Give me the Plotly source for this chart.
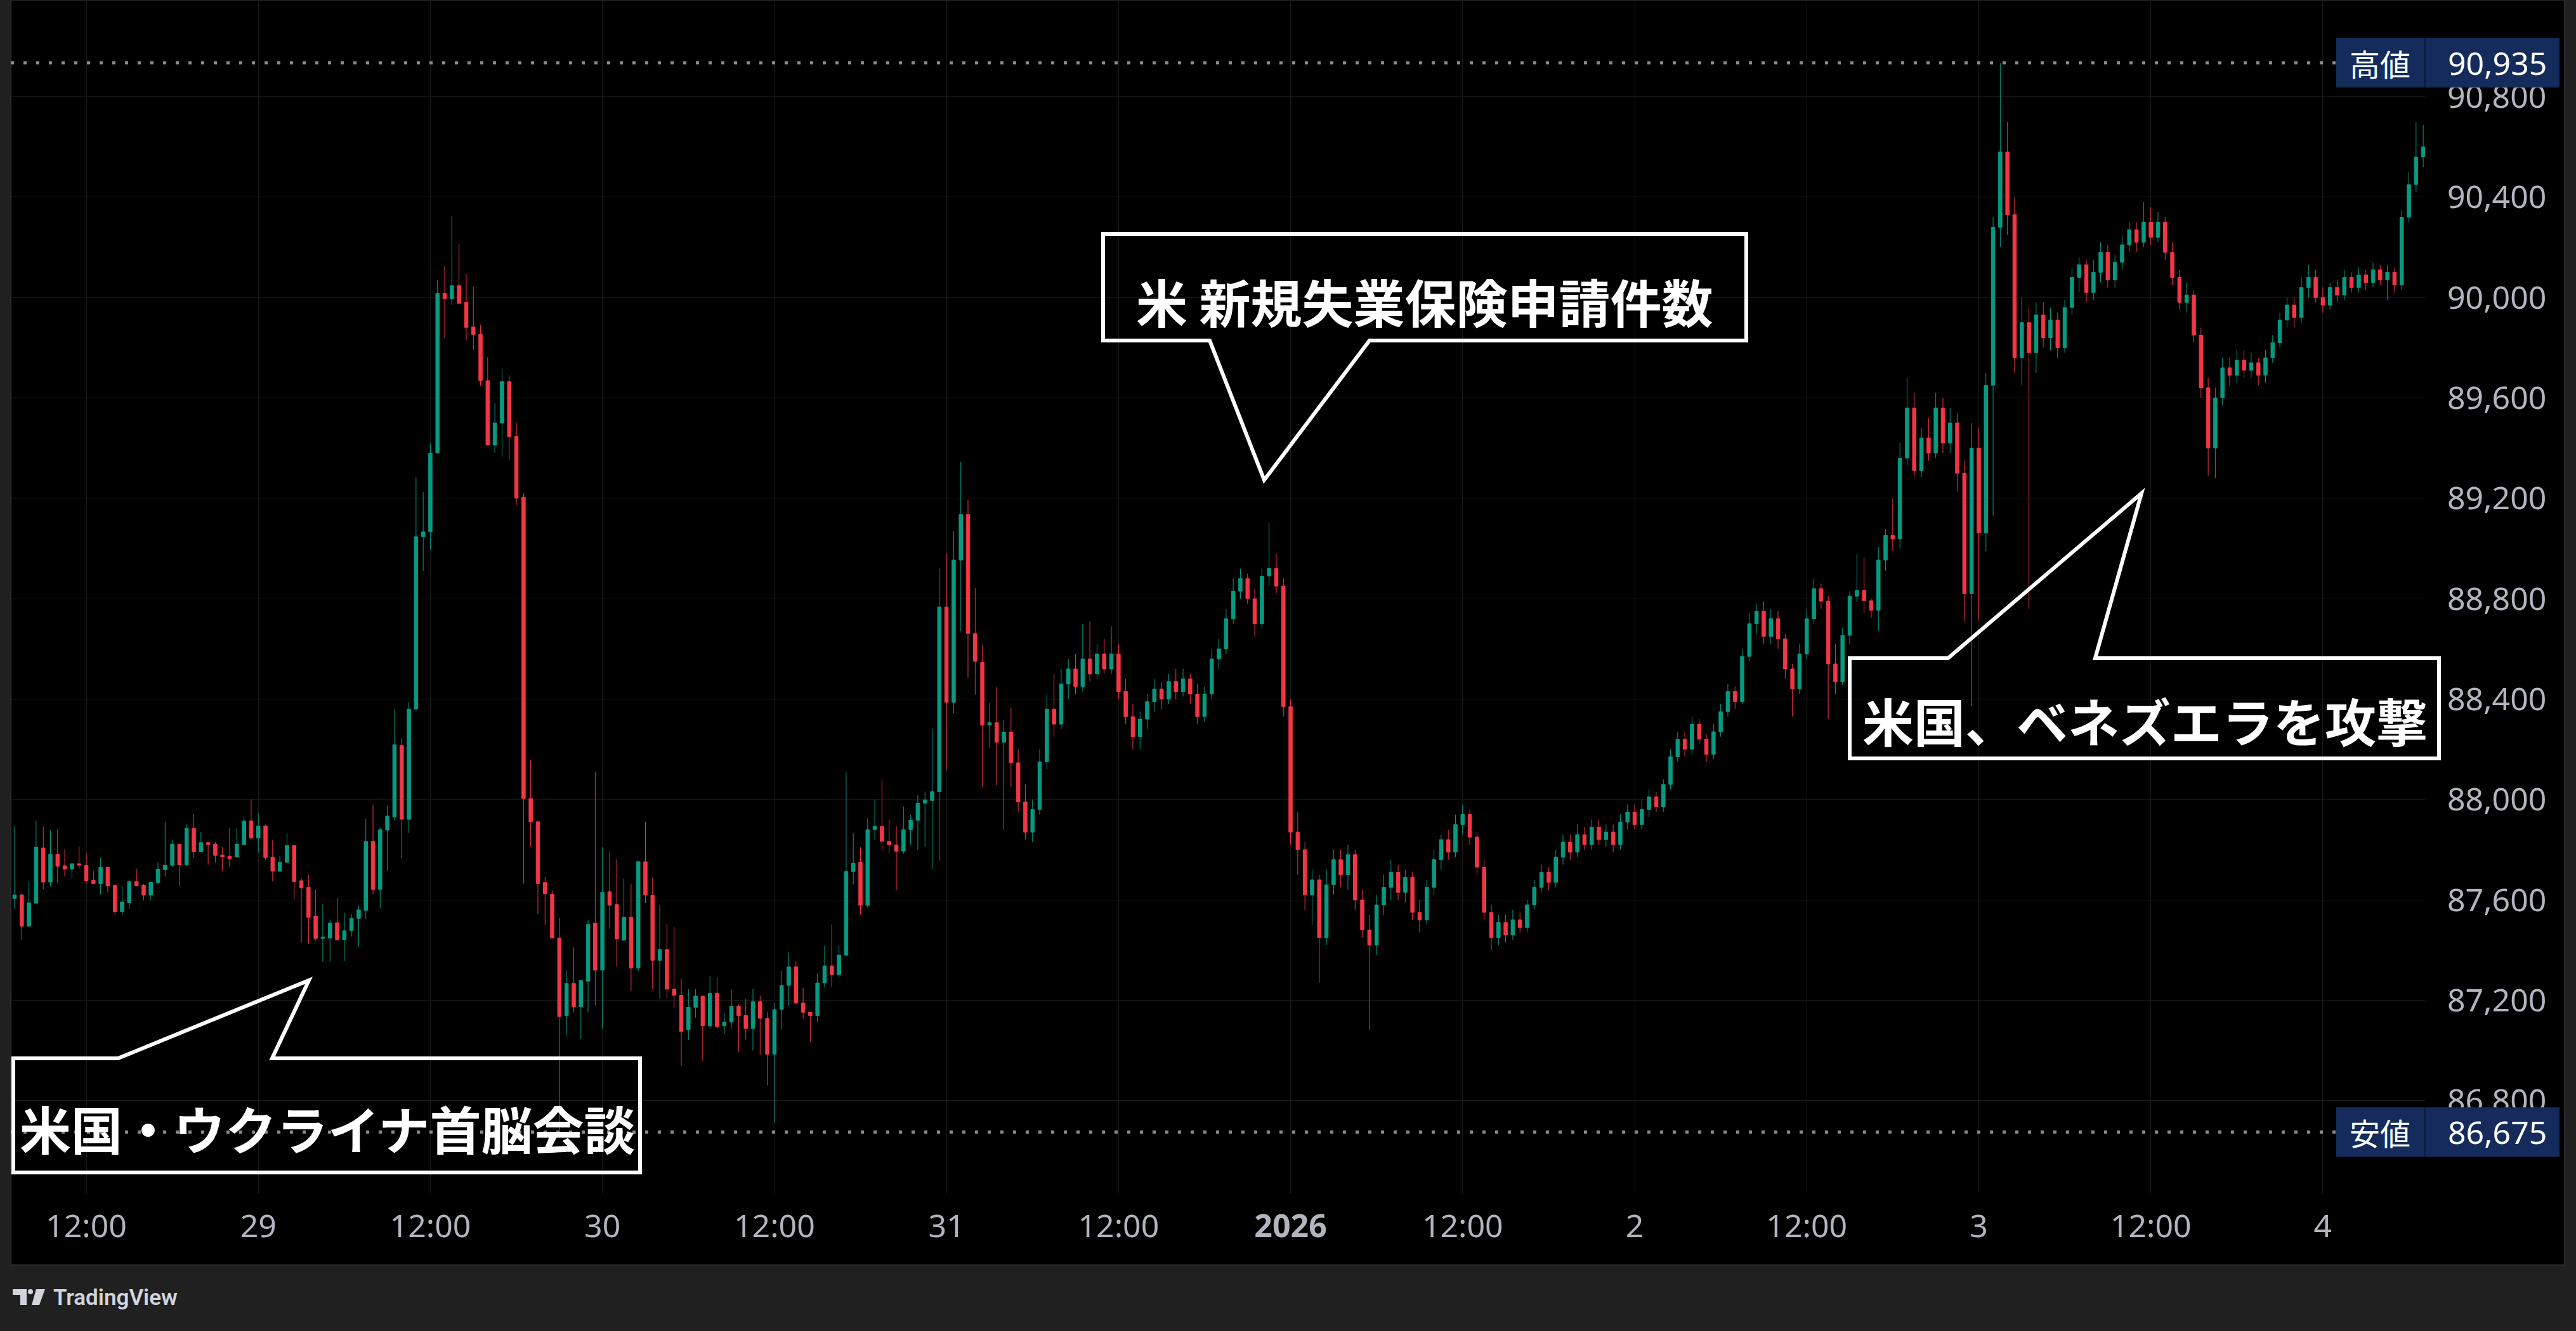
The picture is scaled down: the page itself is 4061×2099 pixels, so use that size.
import plotly.graph_objects as go
import pandas as pd

# ---------------- data (30-minute candles) ----------------
start_time = "2025-12-28 07:00"

opens = [87605, 87620, 87495, 87587, 87807, 87671, 87781, 87736, 87722, 87744,
         87738, 87678, 87665, 87730, 87658, 87553, 87589, 87673, 87658, 87619,
         87668, 87720, 87737, 87822, 87740, 87885, 87791, 87828, 87822, 87779,
         87774, 87771, 87820, 87914, 87846, 87894, 87770, 87714, 87749, 87817,
         87676, 87650, 87535, 87446, 87448, 87509, 87441, 87477, 87526, 87558,
         87833, 87642, 87878, 87930, 88216, 87921, 88360, 89047, 89066, 89380,
         90017, 89994, 90048, 89981, 89883, 89853, 89669, 89412, 89500, 89665,
         89446, 89204, 88004, 87911, 87669, 87622, 87448, 87139, 87267, 87174,
         87276, 87507, 87320, 87633, 87581, 87439, 87531, 87328, 87752, 87619,
         87359, 87402, 87244, 87220, 87083, 87172, 87217, 87098, 87228, 87098,
         87113, 87176, 87139, 87087, 87194, 87128, 86985, 87163, 87259, 87333,
         87189, 87152, 87139, 87269, 87337, 87302, 87380, 87713, 87750, 87578,
         87880, 87893, 87833, 87819, 87794, 87880, 87917, 87985, 87996, 88031,
         88767, 88387, 88954, 89135, 88661, 88546, 88296, 88306, 88228, 88269,
         88146, 87990, 87870, 87960, 88150, 88360, 88300, 88460, 88520, 88450,
         88560, 88500, 88580, 88520, 88580, 88430, 88330, 88250, 88320, 88390,
         88440, 88400, 88470, 88430, 88480, 88420, 88330, 88420, 88560, 88600,
         88720, 88830, 88880, 88800, 88700, 88890, 88920, 88850, 88370, 87870,
         87800, 87620, 87680, 87450, 87660, 87760, 87700, 87780, 87600, 87480,
         87420, 87580, 87650, 87710, 87630, 87690, 87550, 87520, 87650, 87760,
         87840, 87790, 87900, 87940, 87850, 87730, 87550, 87450, 87510, 87460,
         87520, 87490, 87580, 87650, 87710, 87670, 87770, 87830, 87790, 87860,
         87820, 87890, 87840, 87870, 87820, 87910, 87950, 87900, 87960, 88010,
         87970, 88060, 88170, 88240, 88200, 88300, 88240, 88180, 88270, 88350,
         88430, 88390, 88570, 88700, 88750, 88650, 88720, 88640, 88520, 88440,
         88580, 88720, 88840, 88790, 88540, 88469, 88654, 88810, 88833, 88792,
         88754, 88954, 89052, 89038, 89360, 89560, 89310, 89440, 89380, 89560,
         89420, 89500, 89300, 88820, 89400, 89062, 89650, 90280, 90580, 90330,
         89760, 89900, 89780, 89930, 89840, 89910, 89800, 89960, 90080, 90130,
         90020, 90100, 90180, 90070, 90140, 90210, 90270, 90220, 90300, 90240,
         90300, 90180, 90080, 89980, 90010, 89850, 89640, 89400, 89600, 89720,
         89690, 89750, 89710, 89740, 89690, 89760, 89820, 89910, 89970, 89920,
         90040, 90080, 90000, 89970, 90040, 90010, 90080, 90040, 90090, 90060,
         90110, 90070, 90100, 90050, 90320, 90450, 90560]
highs = [87894, 87626, 87673, 87914, 87891, 87877, 87883, 87802, 87745, 87814,
         87784, 87716, 87768, 87733, 87658, 87655, 87681, 87724, 87664, 87670,
         87750, 87911, 87840, 87822, 87900, 87942, 87871, 87831, 87831, 87811,
         87886, 87886, 87932, 88000, 87945, 87900, 87840, 87775, 87867, 87817,
         87687, 87699, 87641, 87583, 87521, 87609, 87549, 87542, 87578, 87923,
         87978, 87888, 87976, 88360, 88247, 88388, 89284, 89225, 89418, 90069,
         90124, 90325, 90214, 90094, 90044, 89891, 89763, 89579, 89717, 89691,
         89501, 89222, 88157, 87917, 87691, 87637, 87528, 87318, 87411, 87282,
         87519, 88111, 87809, 87791, 87761, 87685, 87663, 87757, 87911, 87689,
         87580, 87504, 87491, 87287, 87244, 87244, 87217, 87296, 87291, 87150,
         87243, 87183, 87206, 87244, 87219, 87152, 87189, 87317, 87389, 87356,
         87250, 87152, 87306, 87417, 87502, 87417, 88109, 87865, 87809, 87924,
         88000, 88078, 87920, 87894, 87972, 87939, 88017, 88031, 88281, 88920,
         88981, 89069, 89346, 89194, 88843, 88615, 88385, 88448, 88315, 88365,
         88200, 88060, 88000, 88200, 88420, 88500, 88520, 88560, 88580, 88700,
         88710, 88620, 88640, 88690, 88620, 88480, 88380, 88350, 88420, 88480,
         88470, 88500, 88520, 88520, 88500, 88460, 88450, 88600, 88640, 88760,
         88880, 88920, 88900, 88840, 88920, 89100, 88980, 88880, 88400, 87950,
         87830, 87720, 87700, 87720, 87800, 87800, 87820, 87800, 87640, 87540,
         87620, 87700, 87760, 87740, 87720, 87710, 87600, 87680, 87800, 87860,
         87880, 87940, 87980, 87960, 87870, 87760, 87580, 87540, 87540, 87560,
         87550, 87600, 87680, 87740, 87730, 87800, 87860, 87860, 87900, 87890,
         87920, 87920, 87900, 87900, 87940, 87980, 87980, 88000, 88040, 88030,
         88080, 88200, 88270, 88270, 88330, 88320, 88260, 88300, 88380, 88460,
         88450, 88600, 88740, 88780, 88790, 88760, 88750, 88660, 88540, 88620,
         88760, 88880, 88860, 88810, 88620, 88684, 88829, 88979, 88966, 88800,
         89006, 89076, 89198, 89420, 89680, 89620, 89480, 89520, 89620, 89600,
         89560, 89540, 89350, 89500, 89480, 89700, 90320, 90935, 90700, 90400,
         90000, 89960, 89980, 89980, 89960, 89940, 89990, 90120, 90160, 90150,
         90150, 90220, 90210, 90170, 90250, 90300, 90300, 90380, 90360, 90340,
         90320, 90220, 90110, 90060, 90030, 89880, 89680, 89640, 89760, 89760,
         89790, 89790, 89780, 89760, 89790, 89850, 89940, 90000, 90000, 90080,
         90130, 90110, 90040, 90060, 90070, 90110, 90100, 90120, 90110, 90140,
         90130, 90130, 90120, 90350, 90500, 90698, 90688]
lows = [87565, 87441, 87493, 87587, 87642, 87654, 87667, 87693, 87685, 87723,
        87668, 87665, 87622, 87630, 87540, 87540, 87564, 87656, 87598, 87598,
        87668, 87693, 87730, 87654, 87733, 87768, 87791, 87740, 87748, 87714,
        87731, 87768, 87820, 87843, 87788, 87760, 87673, 87714, 87749, 87601,
        87429, 87426, 87437, 87352, 87352, 87435, 87355, 87454, 87412, 87524,
        87622, 87566, 87714, 87917, 87766, 87868, 88360, 88911, 88993, 89380,
        89839, 89971, 89977, 89830, 89791, 89648, 89412, 89382, 89366, 89352,
        89172, 87665, 87811, 87543, 87500, 87448, 86675, 87061, 87152, 87046,
        87152, 87180, 87087, 87485, 87335, 87437, 87237, 87315, 87587, 87244,
        87207, 87207, 87170, 86939, 87041, 87131, 86959, 87087, 87087, 87065,
        87087, 86994, 87043, 87000, 86983, 86861, 86713, 87083, 87178, 87185,
        87126, 87033, 87115, 87250, 87254, 87291, 87376, 87661, 87541, 87569,
        87839, 87796, 87787, 87639, 87783, 87820, 87798, 87811, 87722, 87756,
        88117, 88343, 88670, 88485, 88417, 88050, 88207, 88056, 87880, 88050,
        87950, 87840, 87830, 87940, 88120, 88250, 88280, 88400, 88420, 88430,
        88470, 88480, 88500, 88500, 88400, 88300, 88200, 88200, 88280, 88350,
        88360, 88380, 88400, 88410, 88380, 88300, 88310, 88400, 88520, 88580,
        88700, 88800, 88780, 88650, 88680, 88850, 88820, 88330, 87820, 87700,
        87560, 87500, 87270, 87420, 87620, 87650, 87640, 87560, 87450, 87080,
        87380, 87540, 87600, 87600, 87590, 87520, 87470, 87500, 87620, 87720,
        87760, 87770, 87860, 87820, 87700, 87520, 87400, 87420, 87430, 87440,
        87470, 87470, 87560, 87630, 87640, 87650, 87740, 87760, 87770, 87800,
        87800, 87820, 87810, 87790, 87800, 87880, 87880, 87880, 87930, 87950,
        87950, 88040, 88150, 88170, 88180, 88220, 88150, 88160, 88250, 88330,
        88360, 88380, 88550, 88660, 88620, 88620, 88600, 88480, 88330, 88420,
        88560, 88700, 88760, 88320, 88420, 88457, 88617, 88787, 88743, 88722,
        88671, 88911, 88990, 88999, 89330, 89285, 89285, 89350, 89360, 89380,
        89380, 89227, 88710, 88373, 88714, 88989, 89131, 90200, 90250, 89700,
        89650, 88760, 89700, 89800, 89790, 89760, 89780, 89930, 90020, 89980,
        89990, 90060, 90040, 90040, 90110, 90180, 90180, 90200, 90210, 90220,
        90150, 90050, 89950, 89940, 89820, 89600, 89290, 89280, 89570, 89650,
        89660, 89680, 89680, 89650, 89660, 89740, 89800, 89880, 89880, 89900,
        90000, 89980, 89940, 89950, 89980, 89990, 90020, 90020, 90030, 90040,
        90050, 89990, 90020, 90030, 90300, 90420, 90520]
closes = [87620, 87495, 87588, 87810, 87671, 87781, 87734, 87722, 87744, 87738,
          87676, 87665, 87730, 87656, 87553, 87592, 87673, 87656, 87619, 87670,
          87722, 87738, 87822, 87740, 87885, 87791, 87828, 87820, 87777, 87771,
          87763, 87822, 87914, 87846, 87894, 87769, 87714, 87750, 87817, 87673,
          87648, 87530, 87446, 87452, 87508, 87441, 87477, 87526, 87560, 87833,
          87642, 87879, 87934, 88218, 87921, 88360, 89047, 89066, 89380, 90017,
          89994, 90048, 89977, 89881, 89853, 89669, 89412, 89500, 89665, 89446,
          89200, 88004, 87911, 87665, 87624, 87448, 87135, 87267, 87174, 87278,
          87502, 87320, 87630, 87578, 87444, 87531, 87328, 87752, 87619, 87359,
          87402, 87244, 87220, 87076, 87172, 87217, 87098, 87228, 87094, 87113,
          87176, 87139, 87087, 87194, 87128, 86985, 87163, 87259, 87333, 87189,
          87152, 87139, 87269, 87337, 87302, 87380, 87713, 87746, 87578, 87880,
          87893, 87833, 87819, 87794, 87880, 87917, 87985, 87998, 88031, 88767,
          88387, 88954, 89135, 88661, 88550, 88296, 88306, 88228, 88269, 88146,
          87990, 87870, 87960, 88150, 88360, 88300, 88460, 88520, 88450, 88560,
          88500, 88580, 88520, 88580, 88430, 88330, 88250, 88320, 88390, 88440,
          88400, 88470, 88430, 88480, 88420, 88330, 88420, 88560, 88600, 88720,
          88830, 88880, 88800, 88700, 88890, 88920, 88850, 88370, 87870, 87800,
          87620, 87680, 87450, 87660, 87760, 87700, 87780, 87600, 87480, 87420,
          87580, 87650, 87710, 87630, 87690, 87550, 87520, 87650, 87760, 87840,
          87790, 87900, 87940, 87850, 87730, 87550, 87450, 87510, 87460, 87520,
          87490, 87580, 87650, 87710, 87670, 87770, 87830, 87790, 87860, 87820,
          87890, 87840, 87870, 87820, 87910, 87950, 87900, 87960, 88010, 87970,
          88060, 88170, 88240, 88200, 88300, 88240, 88180, 88270, 88350, 88430,
          88390, 88570, 88700, 88750, 88650, 88720, 88640, 88520, 88440, 88580,
          88720, 88840, 88790, 88540, 88469, 88654, 88810, 88833, 88792, 88754,
          88954, 89052, 89038, 89360, 89560, 89310, 89440, 89380, 89560, 89420,
          89500, 89300, 88820, 89400, 89062, 89650, 90280, 90580, 90330, 89760,
          89900, 89780, 89930, 89840, 89910, 89800, 89960, 90080, 90130, 90020,
          90100, 90180, 90070, 90140, 90210, 90270, 90220, 90300, 90240, 90300,
          90180, 90080, 89980, 90010, 89850, 89640, 89400, 89600, 89720, 89690,
          89750, 89710, 89740, 89690, 89760, 89820, 89910, 89970, 89920, 90040,
          90080, 90000, 89970, 90040, 90010, 90080, 90040, 90090, 90060, 90110,
          90070, 90100, 90050, 90320, 90450, 90560, 90600]

x_tickvals = ["2025-12-28 12:00", "2025-12-29 00:00", "2025-12-29 12:00", "2025-12-30 00:00",
              "2025-12-30 12:00", "2025-12-31 00:00", "2025-12-31 12:00", "2026-01-01 00:00",
              "2026-01-01 12:00", "2026-01-02 00:00", "2026-01-02 12:00", "2026-01-03 00:00",
              "2026-01-03 12:00", "2026-01-04 00:00"]
x_ticktext = ["12:00", "29", "12:00", "30", "12:00", "31", "12:00", "<b>2026</b>",
              "12:00", "2", "12:00", "3", "12:00", "4"]
y_tickvals = [86800, 87200, 87600, 88000, 88400, 88800, 89200, 89600, 90000, 90400, 90800]

high_label = "高値"
low_label = "安値"
callout_texts = ["米国・ウクライナ首脳会談", "米 新規失業保険申請件数", "米国、ベネズエラを攻撃"]
brand = "TradingView"

high_value = max(highs)
low_value = min(lows)

# ---------------- styling / geometry ----------------
W, H = 4061, 2099
L, R, T, B = 17, 238, 0, 217
PW, PH = W - L - R, H - T - B
UP, DN = "#089981", "#F23645"
FRAME = "#202020"
GRID = "#1a1a1a"
TICK = "#b2b5be"
NAVY = "#142b5c"
CJK = "Noto Sans CJK JP"


def xp(X):
    return (X - L) / PW


def yp(Y):
    return 1 - (Y - T) / PH


def path(points):
    s = "M " + " L ".join(f"{xp(a):.6f},{yp(b):.6f}" for a, b in points)
    return s + " Z"


times = pd.date_range(start_time, periods=len(opens), freq="30min")

fig = go.Figure()
fig.add_trace(go.Candlestick(
    x=times, open=opens, high=highs, low=lows, close=closes,
    increasing=dict(line=dict(color=UP, width=1), fillcolor=UP),
    decreasing=dict(line=dict(color=DN, width=1), fillcolor=DN),
    whiskerwidth=0, hoverinfo="skip", showlegend=False,
))

shapes = []
# black chart area with faint border
shapes.append(dict(type="rect", xref="paper", yref="paper", x0=xp(17), x1=xp(4043), y0=yp(0), y1=yp(1995),
                   fillcolor="#000000", line=dict(color="#2a2a2a", width=2), layer="below"))

# high / low dotted lines + labels
for val in (high_value, low_value):
    shapes.append(dict(type="line", xref="paper", yref="y", x0=xp(17), x1=xp(3683), y0=val, y1=val,
                       line=dict(color="#8a8a8a", width=5, dash="5px,15px"), layer="above"))
    shapes.append(dict(type="rect", xref="paper", yref="y", ysizemode="pixel", yanchor=val,
                       x0=xp(3683), x1=xp(4035), y0=-39, y1=39,
                       fillcolor=NAVY, line=dict(width=0), layer="above"))
    shapes.append(dict(type="line", xref="paper", yref="y", ysizemode="pixel", yanchor=val,
                       x0=xp(3823), x1=xp(3823), y0=-39, y1=39,
                       line=dict(color="#0b1838", width=2), layer="above"))

# speech-bubble callouts (outline only)
c1 = [(21, 1669), (186, 1669), (487, 1546), (429, 1669), (1009, 1669), (1009, 1849), (21, 1849)]
c2 = [(1739, 369), (2753, 369), (2753, 537), (2159, 537), (1993, 757), (1907, 537), (1739, 537)]
c3 = [(2916, 1038), (3071, 1038), (3376, 778), (3303, 1038), (3845, 1038), (3845, 1196), (2916, 1196)]
for c in (c1, c2, c3):
    shapes.append(dict(type="path", xref="paper", yref="paper", path=path(c),
                       line=dict(color="#ffffff", width=6), fillcolor="rgba(0,0,0,0)", layer="above"))

# TradingView logo glyph
LOGO = "#d1d4dc"
shapes.append(dict(type="path", xref="paper", yref="paper",
                   path=path([(20, 2033), (42, 2033), (42, 2058), (32, 2058), (32, 2042), (20, 2042)]),
                   fillcolor=LOGO, line=dict(width=0), layer="above"))
shapes.append(dict(type="circle", xref="paper", yref="paper", x0=xp(44), x1=xp(52), y0=yp(2033), y1=yp(2041),
                   fillcolor=LOGO, line=dict(width=0), layer="above"))
shapes.append(dict(type="path", xref="paper", yref="paper",
                   path=path([(57, 2033), (71, 2033), (62, 2058), (50, 2058)]),
                   fillcolor=LOGO, line=dict(width=0), layer="above"))

annotations = []
for val, lab in ((high_value, high_label), (low_value, low_label)):
    annotations.append(dict(xref="paper", yref="y", x=xp(3752), y=val, text=lab, showarrow=False,
                            xanchor="center", yanchor="middle",
                            font=dict(family=CJK, size=48, color="#ffffff")))
    annotations.append(dict(xref="paper", yref="y", x=xp(3857), y=val, text=f"{val:,}", showarrow=False,
                            xanchor="left", yanchor="middle",
                            font=dict(family="Noto Sans", size=50, color="#ffffff")))

for txt, (cx, cy) in zip(callout_texts, [(516, 1777), (2245, 473), (3381, 1134)]):
    annotations.append(dict(xref="paper", yref="paper", x=xp(cx), y=yp(cy), text=txt, showarrow=False,
                            xanchor="center", yanchor="middle",
                            font=dict(family=CJK, size=81, color="#ffffff", weight="bold")))

annotations.append(dict(xref="paper", yref="paper", x=xp(82), y=yp(2046), text=brand, showarrow=False,
                        xanchor="left", yanchor="middle",
                        font=dict(family="Roboto", size=35, color=LOGO, weight=600)))

fig.update_layout(
    width=W, height=H, margin=dict(l=L, r=R, t=T, b=B, pad=0),
    paper_bgcolor=FRAME, plot_bgcolor="#000000", showlegend=False, hovermode=False,
    font=dict(family="Noto Sans", color=TICK, size=50),
    shapes=shapes, annotations=annotations,
    xaxis=dict(type="date", range=["2025-12-28 06:44:06", "2026-01-04 07:07:36"],
               tickvals=x_tickvals, ticktext=x_ticktext, ticks="", showgrid=True,
               gridcolor=GRID, gridwidth=1, zeroline=False, showline=False,
               tickfont=dict(family="Noto Sans", size=50, color=TICK),
               ticklabelstandoff=18, rangeslider=dict(visible=False), fixedrange=True),
    yaxis=dict(side="right", range=[86430.4, 91185.3], tickvals=y_tickvals,
               ticktext=[f"{v:,}" for v in y_tickvals], ticks="", showgrid=True,
               gridcolor=GRID, gridwidth=1, zeroline=False, showline=False,
               tickfont=dict(family="Noto Sans", size=50, color=TICK),
               ticklabelstandoff=34, fixedrange=True),
)

fig.write_html("out.html", config={"displayModeBar": False},
               post_script="document.body.style.margin='0';document.body.style.overflow='hidden';")
